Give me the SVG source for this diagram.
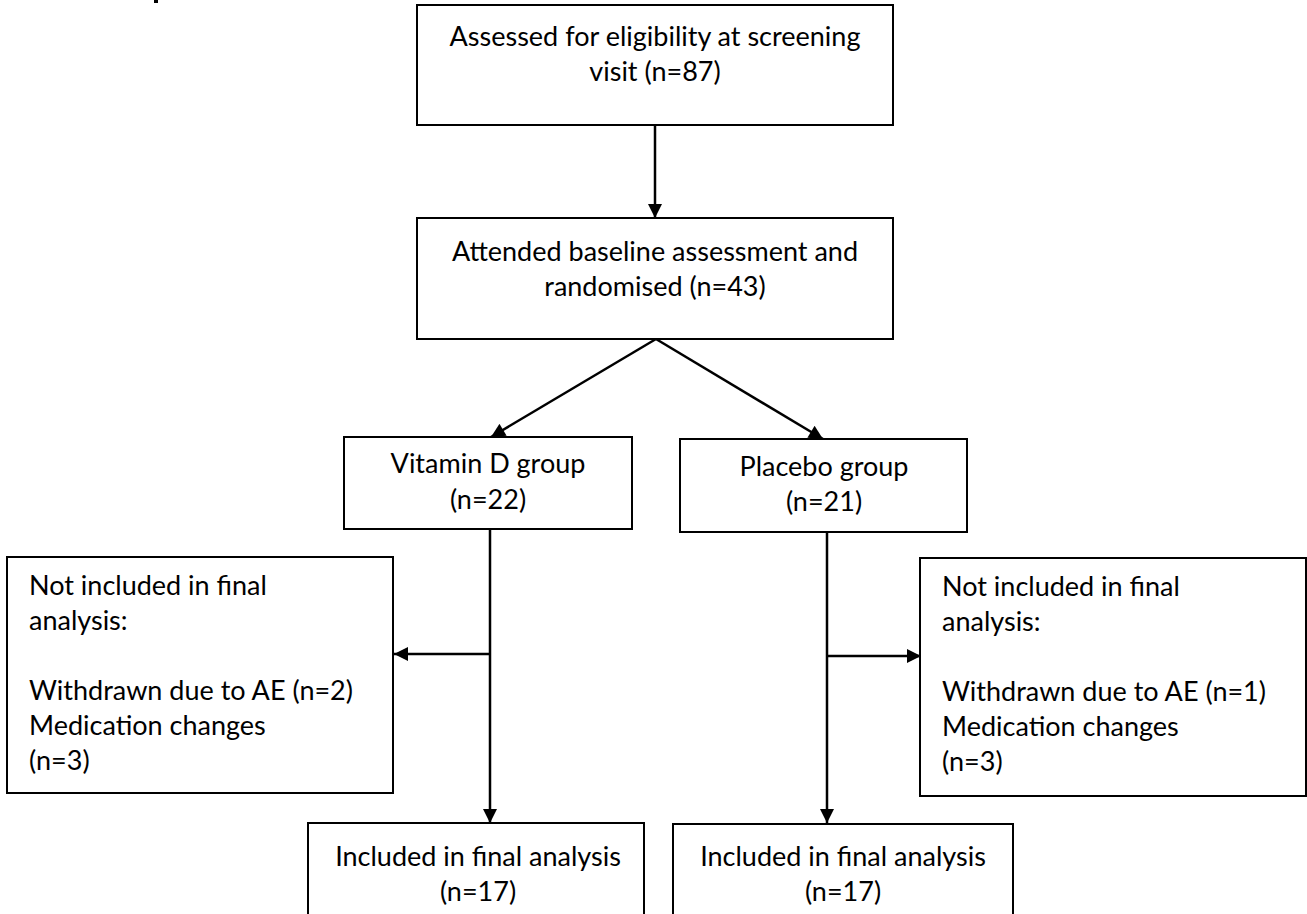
<svg xmlns="http://www.w3.org/2000/svg" width="1307" height="914" viewBox="0 0 1307 914">
<style>
.box{fill:#fff;stroke:#000;stroke-width:2}
.t{font-family:Lato,"Open Sans","Liberation Sans",sans-serif;font-size:27px;fill:#000}
.c{text-anchor:middle}
.ln{stroke:#000;stroke-width:2.5;fill:none}
</style>
<defs>
<marker id="ah" viewBox="0 0 10 10" refX="10" refY="5" markerWidth="6.4" markerHeight="5.6" markerUnits="strokeWidth" orient="auto">
<path d="M0,0 L10,5 L0,10 Z" fill="#000"/>
</marker>
</defs>
<rect x="154" y="0" width="4" height="3" fill="#000"/>
<g id="connectors">
<line class="ln" x1="655" y1="125" x2="655" y2="218" marker-end="url(#ah)"/>
<line class="ln" x1="656" y1="339" x2="491" y2="437" marker-end="url(#ah)"/>
<line class="ln" x1="656" y1="339" x2="823" y2="439" marker-end="url(#ah)"/>
<line class="ln" x1="490" y1="530" x2="490" y2="823" marker-end="url(#ah)"/>
<line class="ln" x1="490" y1="654" x2="394" y2="654" marker-end="url(#ah)"/>
<line class="ln" x1="827" y1="533" x2="827" y2="823" marker-end="url(#ah)"/>
<line class="ln" x1="827" y1="656" x2="921" y2="656" marker-end="url(#ah)"/>
</g>
<g id="screening">
<rect class="box" x="417" y="5" width="476" height="120"/>
<text class="t c" x="655" y="46">Assessed for eligibility at screening</text>
<text class="t c" x="655" y="81">visit (n=87)</text>
</g>
<g id="randomised">
<rect class="box" x="417" y="218" width="476" height="121"/>
<text class="t c" x="655" y="261">Attended baseline assessment and</text>
<text class="t c" x="655" y="296">randomised (n=43)</text>
</g>
<g id="vitd">
<rect class="box" x="344" y="437" width="288" height="92"/>
<text class="t c" x="488" y="473">Vitamin D group</text>
<text class="t c" x="488" y="509">(n=22)</text>
</g>
<g id="placebo">
<rect class="box" x="680" y="439" width="287" height="93"/>
<text class="t c" x="824" y="476">Placebo group</text>
<text class="t c" x="824" y="511">(n=21)</text>
</g>
<g id="excluded-vitd">
<rect class="box" x="7" y="557" width="386" height="236"/>
<text class="t" x="29" y="595">Not included in final</text>
<text class="t" x="29" y="630">analysis:</text>
<text class="t" x="29" y="700">Withdrawn due to AE (n=2)</text>
<text class="t" x="29" y="735">Medication changes</text>
<text class="t" x="29" y="770">(n=3)</text>
</g>
<g id="excluded-placebo">
<rect class="box" x="920" y="558" width="386" height="238"/>
<text class="t" x="942" y="596">Not included in final</text>
<text class="t" x="942" y="631">analysis:</text>
<text class="t" x="942" y="701">Withdrawn due to AE (n=1)</text>
<text class="t" x="942" y="736">Medication changes</text>
<text class="t" x="942" y="771">(n=3)</text>
</g>
<g id="included-vitd">
<rect class="box" x="308" y="823" width="336" height="110"/>
<text class="t c" x="478" y="866">Included in final analysis</text>
<text class="t c" x="478" y="901">(n=17)</text>
</g>
<g id="included-placebo">
<rect class="box" x="673" y="824" width="340" height="110"/>
<text class="t c" x="843" y="866">Included in final analysis</text>
<text class="t c" x="843" y="901">(n=17)</text>
</g>
</svg>
